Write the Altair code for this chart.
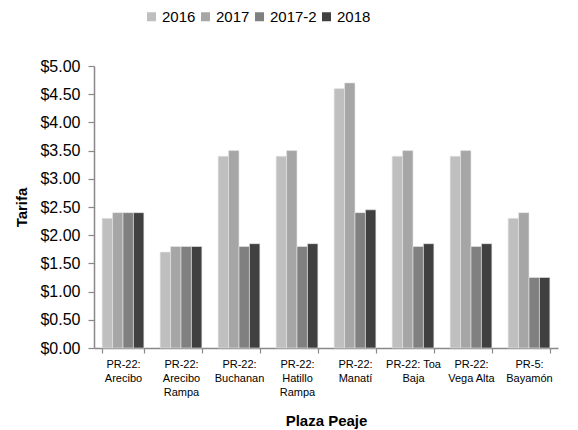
import altair as alt
import pandas as pd

plazas = ["PR-22:\nArecibo", "PR-22:\nArecibo\nRampa", "PR-22:\nBuchanan", "PR-22:\nHatillo\nRampa",
          "PR-22:\nManatí", "PR-22: Toa\nBaja", "PR-22:\nVega Alta", "PR-5:\nBayamón"]
series = ["2016", "2017", "2017-2", "2018"]
v2016 = [2.30, 1.70, 3.40, 3.40, 4.60, 3.40, 3.40, 2.30]
v2017 = [2.40, 1.80, 3.50, 3.50, 4.70, 3.50, 3.50, 2.40]
v2017b = [2.40, 1.80, 1.80, 1.80, 2.40, 1.80, 1.80, 1.25]
v2018 = [2.40, 1.80, 1.85, 1.85, 2.45, 1.85, 1.85, 1.25]
colors = ["#bfbfbf", "#a6a6a6", "#808080", "#404040"]

rows = []
for s, vals in zip(series, [v2016, v2017, v2017b, v2018]):
    for p, v in zip(plazas, vals):
        rows.append({"Plaza": p, "Serie": s, "Tarifa": v})
df = pd.DataFrame(rows)

font = "Liberation Sans"

chart = alt.Chart(df).mark_bar(stroke="#e8e8e8", strokeWidth=0.6).encode(
    x=alt.X("Plaza:N", sort=plazas,
            scale=alt.Scale(paddingInner=0.28, paddingOuter=0.14),
            axis=alt.Axis(title="Plaza Peaje", labelAngle=0,
                          labelExpr="split(datum.label, '\\n')",
                          labelFontSize=11, labelLineHeight=14, labelColor="#000",
                          labelFont=font, labelPadding=5, labelBaseline="top",
                          tickBand="extent", tickSize=5, tickColor="#898989",
                          domainColor="#898989", domainWidth=1.5, tickWidth=1.2,
                          titleFont=font, titleFontSize=15, titleFontWeight="bold",
                          titleColor="#000", titleY=72, titleBaseline="middle")),
    xOffset=alt.XOffset("Serie:N", sort=series, scale=alt.Scale(paddingInner=0, paddingOuter=0)),
    y=alt.Y("Tarifa:Q", scale=alt.Scale(domain=[0, 5]),
            axis=alt.Axis(title="Tarifa", format="$.2f", values=[0, 0.5, 1, 1.5, 2, 2.5, 3, 3.5, 4, 4.5, 5],
                          grid=False, labelFontSize=16, labelFont=font, labelColor="#000",
                          tickSize=6, tickColor="#898989", domainColor="#898989",
                          domainWidth=1.5, tickWidth=1.2, labelPadding=8,
                          titleFont=font, titleFontSize=15, titleFontWeight="bold",
                          titleColor="#000", titlePadding=10)),
    color=alt.Color("Serie:N", sort=series, scale=alt.Scale(domain=series, range=colors),
                    legend=alt.Legend(title=None, orient="none", direction="horizontal",
                                      legendX=50, legendY=-57, symbolType="square",
                                      symbolSize=81, symbolStrokeWidth=0,
                                      labelFontSize=15, labelFont=font, labelColor="#000",
                                      columnPadding=2, labelOffset=3)),
).properties(
    width=464, height=282,
    autosize=alt.AutoSizeParams(type="none"),
    padding={"left": 86, "top": 58, "right": 12, "bottom": 82},
).configure_view(stroke=None)

chart.save("out.html", embed_options={"renderer": "svg", "actions": False})
